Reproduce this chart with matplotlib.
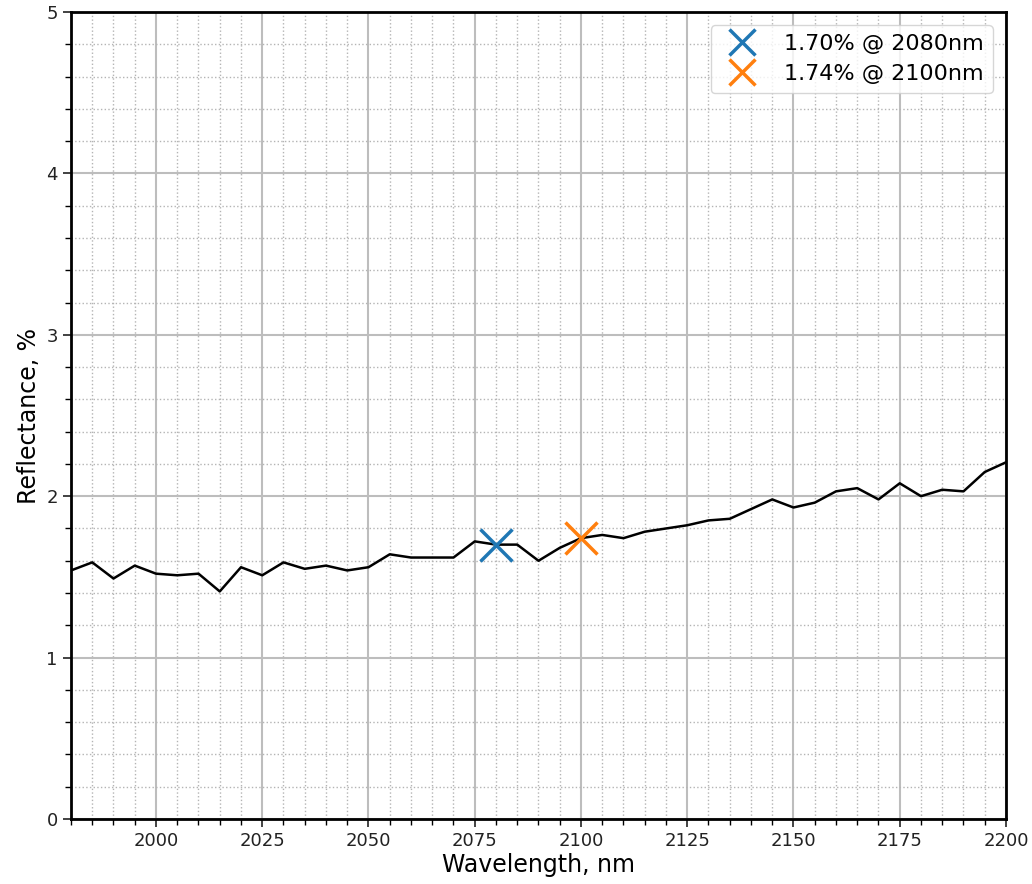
import numpy as np
import matplotlib
matplotlib.use("Agg")
import matplotlib.pyplot as plt
from matplotlib.ticker import MultipleLocator

# reflectance spectrum, 5 nm steps
wavelength = np.arange(1980, 2201, 5)
reflectance = [1.54, 1.59, 1.49, 1.57, 1.52, 1.51, 1.52, 1.41, 1.56, 1.51,
               1.59, 1.55, 1.57, 1.54, 1.56, 1.64, 1.62, 1.62, 1.62, 1.72,
               1.70, 1.70, 1.60, 1.68, 1.74, 1.76, 1.74, 1.78, 1.80, 1.82,
               1.85, 1.86, 1.92, 1.98, 1.93, 1.96, 2.03, 2.05, 1.98, 2.08,
               2.00, 2.04, 2.03, 2.15, 2.21]

marker_wl = [2080, 2100]
marker_val = [1.70, 1.74]
marker_colors = ['#1f77b4', '#ff7f0e']

fig = plt.figure(figsize=(10.32, 8.84), dpi=100)
ax = fig.add_axes([71/1032, 1 - 819/884, (1006-71)/1032, (819-12)/884])

ax.plot(wavelength, reflectance, color='black', lw=1.8)
for wl, v, c in zip(marker_wl, marker_val, marker_colors):
    ax.plot(wl, v, 'x', color=c, markersize=23, mew=2.5,
            label=f"{v:.2f}% @ {wl}nm", linestyle='none')

ax.set_xlim(1980, 2200)
ax.set_ylim(0, 5)
ax.xaxis.set_major_locator(MultipleLocator(25))
ax.xaxis.set_minor_locator(MultipleLocator(5))
ax.yaxis.set_major_locator(MultipleLocator(1))
ax.yaxis.set_minor_locator(MultipleLocator(0.2))
ax.grid(which='major', color='#bdbdbd', lw=1.5)
ax.grid(which='minor', color='#b4b4b4', lw=1.0, linestyle=':')
ax.tick_params(labelsize=13, colors='#222222', length=6, width=1.2)
ax.tick_params(which='minor', length=4, width=1.0)
for s in ax.spines.values():
    s.set_linewidth(2)

ax.set_xlabel("Wavelength, nm", fontsize=17, labelpad=2)
ax.set_ylabel("Reflectance, %", fontsize=17)
ax.legend(loc='upper right', fontsize=16, handletextpad=0.9, borderaxespad=0.6,
          markerscale=0.8, labelspacing=0.45)

fig.savefig("out.png", dpi=100)
